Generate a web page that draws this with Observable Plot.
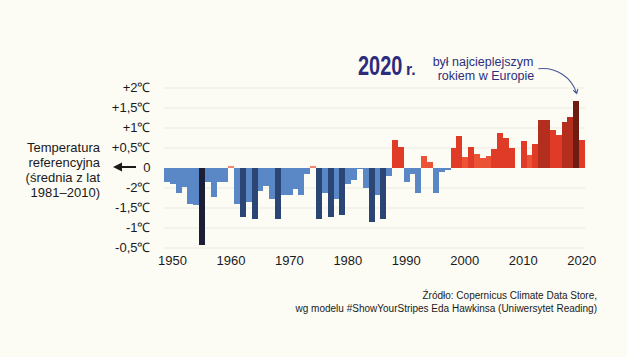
<!DOCTYPE html>
<html>
<head>
<meta charset="utf-8">
<script src="https://cdn.jsdelivr.net/npm/d3@7"></script>
<script src="https://cdn.jsdelivr.net/npm/@observablehq/plot@0.6"></script>
<style>
  html, body { margin: 0; padding: 0; background: #fcfcf5; }
  #wrap { position: relative; width: 627px; height: 357px; overflow: hidden; background: #fcfcf5; font-family: "Liberation Sans", Arial, sans-serif; }
  #chart, #overlay { position: absolute; left: 0; top: 0; }
  #overlay { pointer-events: none; }
</style>
</head>
<body>
<div id="wrap">
  <div id="chart"></div>
  <svg id="overlay" width="627" height="357"></svg>
</div>
<script>
// ---- data ----
const years = [1950,1951,1952,1953,1954,1955,1956,1957,1958,1959,
  1960,1961,1962,1963,1964,1965,1966,1967,1968,1969,
  1970,1971,1972,1973,1974,1975,1976,1977,1978,1979,
  1980,1981,1982,1983,1984,1985,1986,1987,1988,1989,
  1990,1991,1992,1993,1994,1995,1996,1997,1998,1999,
  2000,2001,2002,2003,2004,2005,2006,2007,2008,2009,
  2010,2011,2012,2013,2014,2015,2016,2017,2018,2019,
  2020,2021];
const anomalies = [-0.36,-0.40,-0.63,-0.48,-0.91,-0.93,-1.93,-0.35,-0.73,-0.36,
  -0.36,0.03,-0.91,-1.24,-0.85,-1.29,-0.58,-0.45,-0.79,-1.28,
  -0.68,-0.68,-0.53,-0.69,-0.15,0.03,-1.28,-0.63,-1.23,-0.79,
  -1.19,-0.40,-0.30,-0.04,-0.50,-1.36,-0.68,-1.28,-0.21,0.68,
  0.52,-0.36,-0.16,-0.63,0.28,0.14,-0.63,-0.10,-0.05,0.50,
  0.80,0.27,0.51,0.34,0.23,0.29,0.46,0.86,0.73,0.50,
  0.00,0.66,0.31,0.58,1.20,1.20,0.94,0.81,1.15,1.27,
  1.66,0.69];
const decadeTicks = [1950,1960,1970,1980,1990,2000,2010,2020];
const yTicks = [2,1.5,1,0.5,0,-0.5,-1,-1.5,-2];
const yTickLabels = ["+2\u2103","+1,5\u2103","+1\u2103","+0,5\u2103","0","-2\u2103","-1,5\u2103","-1\u2103","-0,5\u2103"];
const colorThresholds = [-1.5,-1.0,0,0.1,0.4,1.1,1.5];
const colorRange = ["#1c1e36","#2b4574","#5a88c7","#f2876a","#ec5336","#e03b26","#b32e1d","#6e1b12"];
const refLabelLines = ["Temperatura","referencyjna","(średnia z lat","1981–2010)"];
const headline = "2020";
const headlineSuffix = "r.";
const noteLines = ["był najcieplejszym","rokiem w Europie"];
const sourceLines = ["Źródło: Copernicus Climate Data Store,","wg modelu #ShowYourStripes Eda Hawkinsa (Uniwersytet Reading)"];

const data = years.map((year, i) => ({year, value: anomalies[i]}));
const record = data.reduce((a, b) => (b.value > a.value ? b : a));
const yLabel = new Map(yTicks.map((t, i) => [t, yTickLabels[i]]));

const chart = Plot.plot({
  width: 627,
  height: 357,
  marginLeft: 164,
  marginRight: 42,
  marginTop: 87.5,
  marginBottom: 109.5,
  style: {background: "transparent", fontFamily: "'Liberation Sans', Arial, sans-serif", fontSize: "13px", color: "#1a1a1a", overflow: "visible"},
  x: {domain: [1949.5, 2021.5]},
  y: {domain: [-2, 2]},
  color: {type: "threshold", domain: colorThresholds, range: colorRange},
  marks: [
    Plot.ruleY(yTicks.filter(d => d !== 0), {stroke: "#ebeae0", strokeWidth: 1}),
    Plot.rect(data, {
      x1: d => d.year - 0.5,
      x2: d => d.year + 0.5,
      y1: () => 0,
      y2: "value",
      fill: "value",
      inset: 0,
      shapeRendering: "crispEdges"
    }),
    Plot.axisX({ticks: decadeTicks, tickSize: 0, tickPadding: 7.5, dx: 5, tickFormat: d => String(d), label: null, fontSize: 13}),
    Plot.axisY({ticks: yTicks, tickSize: 0, tickPadding: 14, tickFormat: d => yLabel.get(d), label: null, fontSize: 13}),
    Plot.arrow([record], {
      x1: () => 2013.5,
      y1: () => 2.48,
      x2: "year",
      y2: d => d.value + 0.2,
      bend: 40,
      stroke: "#4a5896",
      strokeWidth: 1.1,
      headLength: 6
    })
  ]
});
document.getElementById("chart").appendChild(chart);

// ---- annotations ----
const ov = d3.select("#overlay");
const F = "'Liberation Sans', Arial, sans-serif";
ov.selectAll("text.ref").data(refLabelLines).join("text")
  .attr("class", "ref")
  .attr("x", 100).attr("y", (d, i) => 152 + i * 15.1)
  .attr("text-anchor", "end")
  .attr("font-family", F).attr("font-size", 13).attr("fill", "#1a1a1a")
  .text(d => d);
// left arrow pointing to zero line
ov.append("line").attr("x1", 121).attr("x2", 136).attr("y1", 167).attr("y2", 167)
  .attr("stroke", "#1a1a1a").attr("stroke-width", 2);
ov.append("path").attr("d", "M113,167 L122,162.5 L122,171.5 Z").attr("fill", "#1a1a1a");

// condensed headline: scaled horizontally so its box matches the narrow lettering
ov.append("text").attr("transform", "translate(358,75) scale(0.74,1)")
  .attr("font-family", F).attr("font-weight", "bold").attr("font-size", 27)
  .attr("fill", "#2d2b7c").text(headline);
ov.append("text").attr("x", 406).attr("y", 75)
  .attr("font-family", F).attr("font-weight", "bold").attr("font-size", 16)
  .attr("fill", "#2d2b7c").text(headlineSuffix);
ov.selectAll("text.note").data(noteLines).join("text")
  .attr("class", "note")
  .attr("x", (d, i) => i === 0 ? 483 : 486).attr("y", (d, i) => 66 + i * 13.5)
  .attr("text-anchor", "middle")
  .attr("font-family", F).attr("font-size", 12.5).attr("fill", "#2d2e7c")
  .text(d => d);
ov.selectAll("text.src").data(sourceLines).join("text")
  .attr("class", "src")
  .attr("x", 597).attr("y", (d, i) => 298.5 + i * 13)
  .attr("text-anchor", "end")
  .attr("font-family", F).attr("font-size", 10).attr("fill", "#1a1a1a")
  .text(d => d);
</script>
</body>
</html>
